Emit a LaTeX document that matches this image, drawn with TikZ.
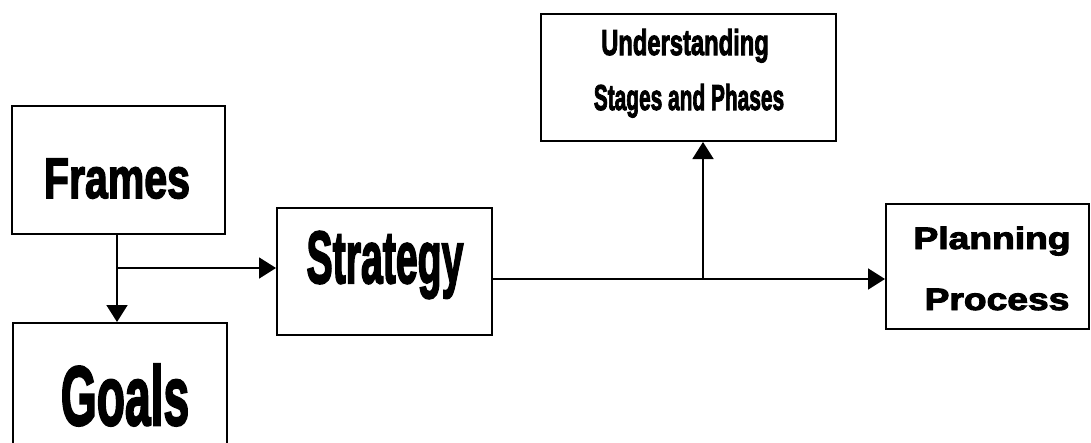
\documentclass[tikz,border=0pt]{standalone}
\usepackage{fontspec}
\usepackage{graphicx}
\newfontfamily\heavy[BoldFeatures={FakeBold=3}]{Liberation Sans}
\usetikzlibrary{arrows.meta}
\begin{document}
\begin{tikzpicture}[x=1pt,y=-1pt,
  box/.style={draw,line width=2pt,rectangle,inner sep=0pt,anchor=north west},
  lbl/.style={anchor=base,inner sep=0pt,font=\heavy\bfseries},
  arr/.style={line width=1.8pt,-{Triangle[width=21pt,length=17pt]}},
  ln/.style={line width=1.8pt}]
\useasboundingbox (0,0) rectangle (1091,442);
\clip (0,0) rectangle (1091,442);
% boxes
\node[box,minimum width=213pt,minimum height=128pt] (frames) at (11,105) {};
\node[box,minimum width=214pt,minimum height=160pt] (goals) at (12,322) {};
\node[box,minimum width=215pt,minimum height=127pt] (strategy) at (276,207) {};
\node[box,minimum width=295pt,minimum height=127pt] (und) at (540,13) {};
\node[box,minimum width=203pt,minimum height=125pt] (plan) at (885,203) {};
% labels
\node[lbl] (tframes) at (117,198) {\fontsize{57}{60}\selectfont\scalebox{0.72}[1]{Frames}};
\node[lbl] (tgoals) at (125,425) {\fontsize{84}{88}\selectfont\scalebox{0.55}[1]{Goals}};
\node[lbl] (tstrategy) at (385,283) {\fontsize{74}{78}\selectfont\scalebox{0.53}[1]{Strategy}};
\node[lbl] (tund1) at (685,55) {\fontsize{36}{38}\selectfont\scalebox{0.66}[1]{Understanding}};
\node[lbl] (tund2) at (689,110) {\fontsize{36}{38}\selectfont\scalebox{0.58}[1]{Stages and Phases}};
\node[lbl] (tplan1) at (992,249) {\fontsize{31}{34}\selectfont\scalebox{1.2}[1]{Planning}};
\node[lbl] (tplan2) at (997,310) {\fontsize{31}{34}\selectfont\scalebox{1.2}[1]{Process}};
% connectors
\coordinate (branch) at (117,268);
\coordinate (mid) at (703,279);
\draw[arr] (frames.south -| branch) -- (goals.north -| branch);
\draw[arr] (branch) -- (strategy.west |- branch);
\draw[arr] (strategy.east |- mid) -- (plan.west |- mid);
\draw[arr] (mid) -- (und.south -| mid);
\end{tikzpicture}
\end{document}
